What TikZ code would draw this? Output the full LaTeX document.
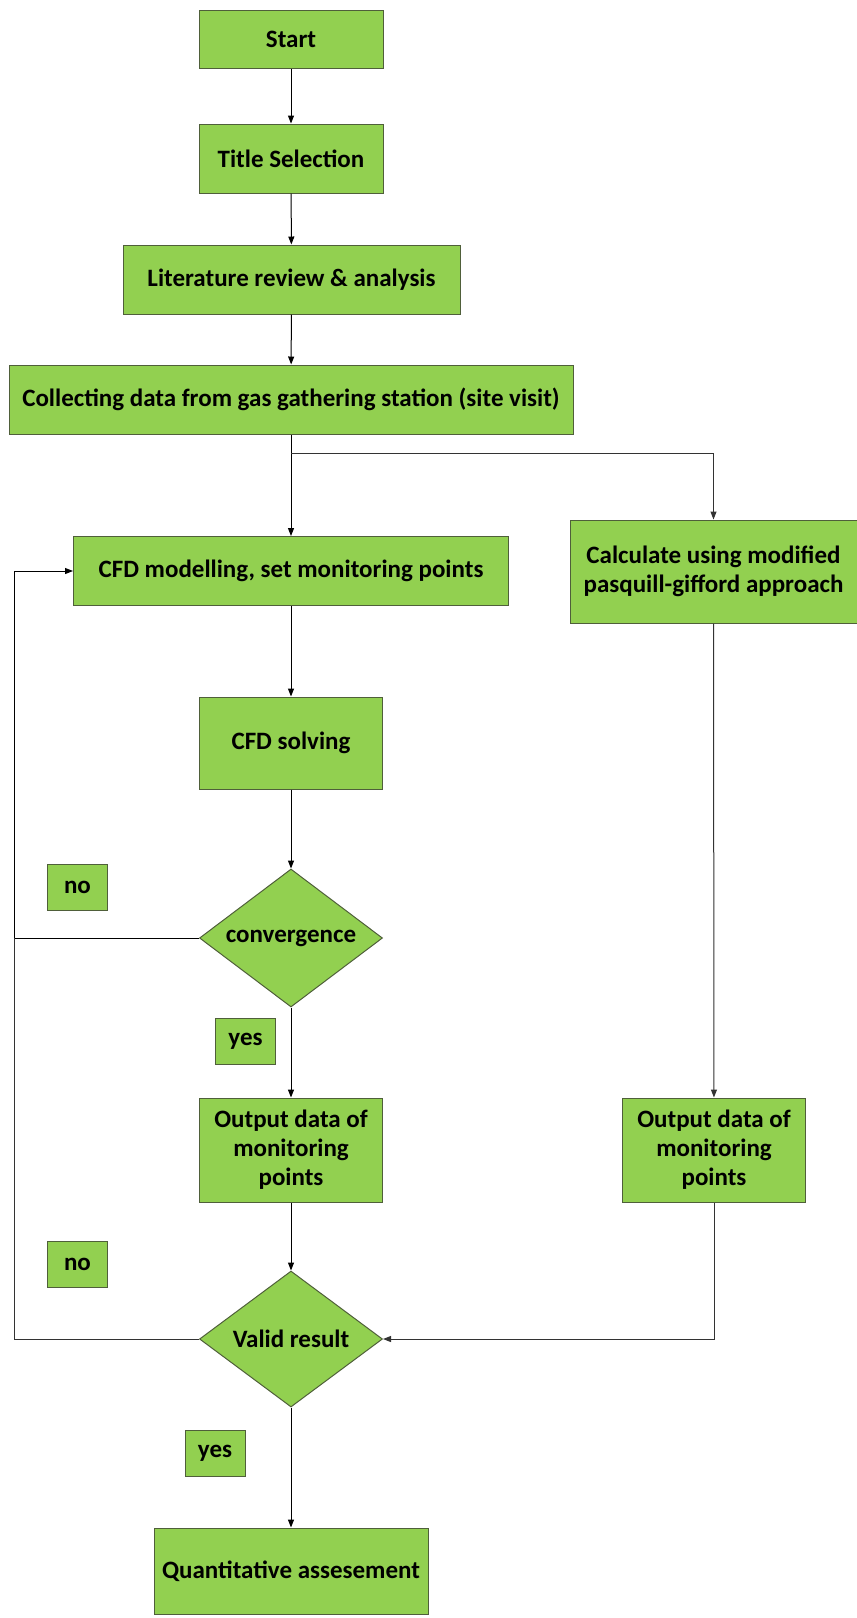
\documentclass[tikz,border=0pt]{standalone}
\usepackage{fontspec}
\setmainfont{Carlito}
\usetikzlibrary{shapes.geometric,arrows.meta,calc}
\definecolor{boxgreen}{HTML}{92D050}
\definecolor{boxline}{HTML}{4F5F3A}
\tikzset{
  stepbox/.style={draw=boxline, line width=1pt, fill=boxgreen, inner sep=2pt, align=center,
    font=\bfseries\fontsize{25}{29}\selectfont},
  decide/.style={stepbox, diamond, inner sep=-10pt},
  tag/.style={stepbox, minimum width=60pt, minimum height=46pt},
  arr/.style={-{Triangle[length=8pt,width=6pt]}, line width=1pt},
  wire/.style={line width=1pt, draw=black!80}
}
\begin{document}
\begin{tikzpicture}[x=1pt,y=-1pt]
\useasboundingbox (0,0) rectangle (857,1618);
\node[stepbox, minimum width=184pt, minimum height=58pt] (start) at (291,39) {Start};
\node[stepbox, minimum width=184pt, minimum height=69pt] (title) at (291,158.5) {Title Selection};
\node[stepbox, minimum width=337pt, minimum height=69pt] (lit) at (291.5,279.5) {Literature review \& analysis};
\node[stepbox, minimum width=564pt, minimum height=69pt] (collect) at (291,399.5) {Collecting data from gas gathering station (site visit)};
\node[stepbox, minimum width=435pt, minimum height=69pt] (cfdmod) at (291,571) {CFD modelling, set monitoring points};
\node[stepbox, minimum width=287pt, minimum height=103pt] (calc) at (713.5,571.5) {Calculate using modified\\pasquill-gifford approach};
\node[stepbox, minimum width=183pt, minimum height=92pt] (solve) at (291,743) {CFD solving};
\node[decide, minimum width=183pt, minimum height=138pt] (conv) at (291,938) {convergence};
\node[tag] (no1) at (77.5,887) {no};
\node[tag] (yes1) at (245.5,1041) {yes};
\node[stepbox, minimum width=183pt, minimum height=104pt] (outL) at (291,1150) {Output data of\\monitoring\\points};
\node[stepbox, minimum width=183pt, minimum height=104pt] (outR) at (714,1150) {Output data of\\monitoring\\points};
\node[tag] (no2) at (77.5,1264) {no};
\node[decide, minimum width=183pt, minimum height=136pt] (valid) at (291,1339) {Valid result};
\node[tag] (yes2) at (215,1453) {yes};
\node[stepbox, minimum width=274pt, minimum height=86pt] (quant) at (291,1571) {Quantitative assesement};
\coordinate (split) at ($(collect.south)+(0,19)$);
\coordinate (loopx) at (14,0);
\draw[arr] (start) -- (title);
\draw[arr] (title) -- (lit);
\draw[arr] (lit) -- (collect);
\draw[arr] (collect) -- (cfdmod);
\draw[arr, draw=black!80] (split) -| (calc);
\draw[arr] (cfdmod) -- (solve);
\draw[arr] (solve) -- (conv);
\draw[arr] (conv) -- (outL);
\draw[arr] (outL) -- (valid);
\draw[arr] (valid) -- (quant);
\draw[arr, draw=black!80] (calc) -- (outR);
\draw[arr, draw=black!80] (outR) |- (valid);
\draw[arr] (conv.west) -- (conv.west -| loopx) |- (cfdmod.west);
\draw[wire] (valid.west) -- (valid.west -| loopx) -- (conv.west -| loopx);
\end{tikzpicture}
\end{document}
